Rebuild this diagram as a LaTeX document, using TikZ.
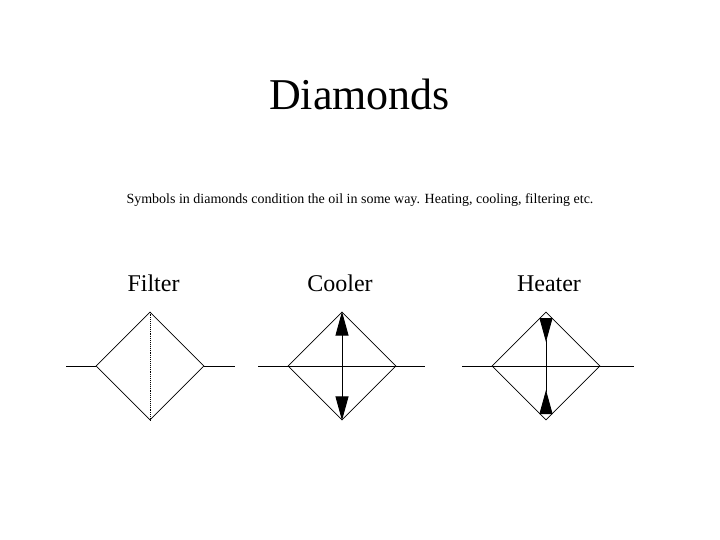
\documentclass[tikz,border=0pt]{standalone}
\usepackage{fontspec}
\setmainfont{Liberation Serif}
\usepackage{tikz}
\usetikzlibrary{shapes.geometric}
\usetikzlibrary{arrows.meta}
\tikzstyle{symbol} = [diamond, minimum width=108pt, minimum height=108pt, inner sep=0pt, draw=black, line width=0.8pt]
\tikzstyle{title} = [anchor=base, font=\fontsize{44}{44}\selectfont]
\tikzstyle{subtitle} = [anchor=base, font=\fontsize{14}{14}\selectfont]
\tikzstyle{label} = [anchor=base, font=\fontsize{24}{24}\selectfont]
\tikzstyle{line} = [line width=0.9pt,-]
\tikzstyle{outward} = [line width=0.9pt,{Triangle[length=24pt,width=13pt]}-{Triangle[length=24pt,width=13pt]}]
\tikzstyle{inward} = [line width=0.9pt,{Triangle[reversed,length=24pt,width=13pt]}-{Triangle[reversed,length=24pt,width=13pt]}]

\begin{document}
\begin{tikzpicture}[x=1pt,y=-1pt]
        \useasboundingbox (0,0) rectangle (720,540);
        \node (heading) [title] at (359.5,110) {Diamonds};
        \node (note) [subtitle] at (360,204) {Symbols in diamonds condition the oil in some way. Heating, cooling, filtering etc.};
        \node (filterLabel) [label] at (153.5,291) {Filter};
        \node (coolerLabel) [label] at (340,291) {Cooler};
        \node (heaterLabel) [label] at (549,291) {Heater};

        \node (filter) [symbol] at (150,366) {};
        \node (cooler) [symbol] at (342,366) {};
        \node (heater) [symbol] at (546,366) {};

        \coordinate (filterIn) at (66,366);
        \coordinate (filterOut) at (235,366);
        \coordinate (coolerIn) at (258,366);
        \coordinate (coolerOut) at (425,366);
        \coordinate (heaterIn) at (462,366);
        \coordinate (heaterOut) at (634,366);
        \coordinate (heaterTop) at (546,318);
        \coordinate (heaterBottom) at (546,414);

        \draw [line] (filterIn) -- (filter.west);
        \draw [line] (filter.east) -- (filterOut);
        \draw [line, densely dotted] (filter.north) -- (filter.south);
        \draw [line] (coolerIn) -- (coolerOut);
        \draw [outward] (cooler.north) -- (cooler.south);
        \draw [line] (heaterIn) -- (heaterOut);
        \draw [inward] (heaterTop) -- (heaterBottom);
    \end{tikzpicture}
\end{document}
